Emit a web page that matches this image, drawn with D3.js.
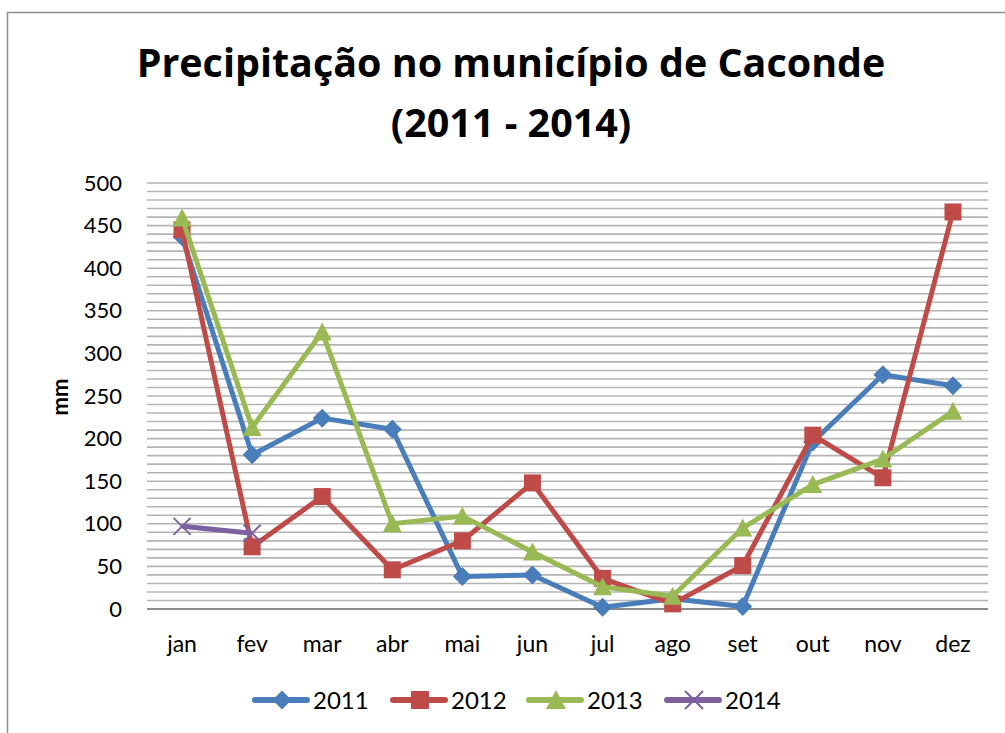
<!DOCTYPE html>
<html><head><meta charset="utf-8">
<script src="https://cdn.jsdelivr.net/npm/d3@7"></script>
<style>body{margin:0;background:#fff;}svg{display:block;font-family:Lato, "Open Sans", sans-serif;}</style>
</head><body>
<svg id="c" width="1005" height="733"></svg>
<script>
const months = ["jan","fev","mar","abr","mai","jun","jul","ago","set","out","nov","dez"];
const s2011 = [437,181,224,211,38,40,2,12,3,196,275,262];
const s2012 = [445,73,132,46,80,148,36,6,51,204,154,466];
const s2013 = [459,213,325,100,109,67,26,15,95,146,176,232];
const s2014 = [97,89];
const yTicks = [0,50,100,150,200,250,300,350,400,450,500];
const seriesNames = ["2011","2012","2013","2014"];

const series = [
  {name:"2011", values:s2011, color:"#4a7ebb", marker:"diamond"},
  {name:"2012", values:s2012, color:"#be4b48", marker:"square"},
  {name:"2013", values:s2013, color:"#98b954", marker:"triangle"},
  {name:"2014", values:s2014, color:"#7d60a0", marker:"x"}
];

const svg = d3.select("#c");
svg.append("path").attr("d","M7.5,733 V12.5 H1005").attr("fill","none").attr("stroke","#8c8c8c").attr("stroke-width",1.5);

const L=147, R=988, T=183, B=609;
const x = d3.scaleBand().domain(months).range([L,R]);
const y = d3.scaleLinear().domain([0,500]).range([B,T]);

const g = svg.append("g");
g.selectAll("line.grid").data(d3.range(10,501,10)).join("line")
  .attr("x1",L).attr("x2",R).attr("y1",d=>y(d)).attr("y2",d=>y(d))
  .attr("stroke","#b4b4b4").attr("stroke-width",1.6);
g.append("line").attr("x1",L).attr("x2",R).attr("y1",B).attr("y2",B).attr("stroke","#8c8c8c").attr("stroke-width",2);

const yAxis = d3.axisLeft(y).tickValues(yTicks).tickSize(0).tickPadding(25);
const ya = svg.append("g").attr("transform",`translate(${L},0)`).call(yAxis);
ya.select(".domain").remove();
ya.selectAll("text").attr("font-size",22).attr("fill","#000").attr("font-family","Lato, sans-serif");

const xAxis = d3.axisBottom(x).tickSize(0).tickPadding(27);
const xa = svg.append("g").attr("transform",`translate(0,${B})`).call(xAxis);
xa.select(".domain").remove();
xa.selectAll("text").attr("font-size",23).attr("fill","#000").attr("font-family","Lato, sans-serif");

svg.append("text").attr("transform","translate(68,397) rotate(-90)").attr("text-anchor","middle")
  .attr("font-weight","bold").attr("font-size",22).text("mm");

const title = svg.append("text").attr("text-anchor","middle").attr("font-weight","bold").attr("font-size",40).attr("font-family","'Open Sans', sans-serif");
const t1 = title.append("tspan").attr("x",511).attr("y",77).text("Precipitação no município de Caconde");
title.append("tspan").attr("x",511).attr("y",137).text("(2011 - 2014)");
const w = t1.node().getComputedTextLength();
title.attr("font-size", 40*749/w);

function markerPath(type, size){
  const h=size/2;
  if(type==="diamond") return `M0,${-h}L${h},0L0,${h}L${-h},0Z`;
  if(type==="square") return `M${-h},${-h}H${h}V${h}H${-h}Z`;
  if(type==="triangle") return `M0,${-h-1}L${h+1},${h}L${-h-1},${h}Z`;
  return `M${-h},${-h}L${h},${h}M${h},${-h}L${-h},${h}`;
}
const msize = m => m==="diamond"?19:(m==="x"?17:17);
const cx = m => x(m)+x.bandwidth()/2;
const line = d3.line().x((d,i)=>cx(months[i])).y(d=>y(d));

series.forEach(s=>{
  const gs = svg.append("g");
  gs.append("path").attr("d",line(s.values)).attr("fill","none").attr("stroke",s.color).attr("stroke-width",5).attr("stroke-linejoin","round");
  gs.selectAll("path.m").data(s.values).join("path").attr("class","m")
    .attr("transform",(d,i)=>`translate(${cx(months[i])},${y(d)})`)
    .attr("d",markerPath(s.marker, msize(s.marker)))
    .attr("fill",s.marker==="x"?"none":s.color)
    .attr("stroke",s.color).attr("stroke-width",s.marker==="x"?2:0);
});

const lx = [253,391,527,665];
series.forEach((s,i)=>{
  const gl = svg.append("g").attr("transform",`translate(${lx[i]},700)`);
  gl.append("line").attr("x1",2).attr("x2",54).attr("stroke",s.color).attr("stroke-width",6).attr("stroke-linecap","round");
  gl.append("path").attr("transform","translate(29,0)").attr("d",markerPath(s.marker, s.marker==="diamond"?19:18))
    .attr("fill",s.marker==="x"?"none":s.color).attr("stroke",s.color).attr("stroke-width",s.marker==="x"?2:0);
  gl.append("text").attr("x",60).attr("y",8.5).attr("font-size",24).text(seriesNames[i]);
});
</script>
</body></html>
